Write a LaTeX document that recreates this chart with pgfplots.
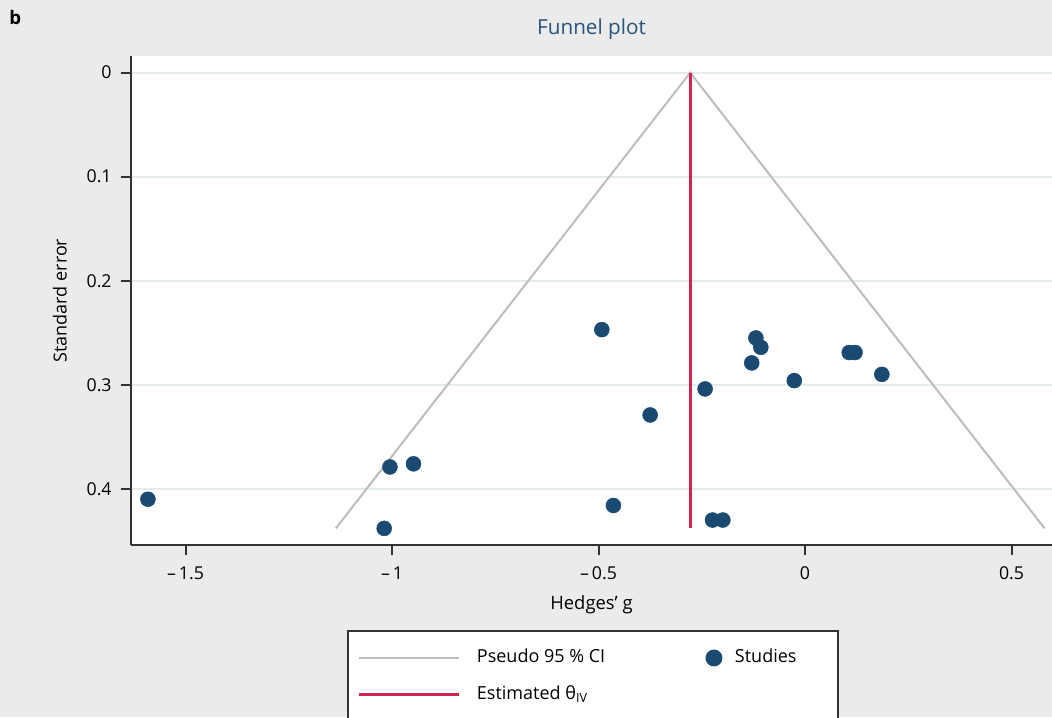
\documentclass[border=0pt]{standalone}
\usepackage{fontspec}
\setmainfont{Open Sans}
\usepackage{pgfplots}
\usepackage{pgfplotstable}
\pgfplotsset{compat=1.18}
\definecolor{bgc}{HTML}{EBEBEB}
\definecolor{titlec}{RGB}{38,84,124}
\definecolor{dotc}{RGB}{26,74,114}
\definecolor{redc}{RGB}{206,36,78}
\definecolor{func}{HTML}{BDBDBD}
\definecolor{gridc}{HTML}{E4EBEB}
\definecolor{axc}{HTML}{333333}
\pgfplotsset{
  lineleg/.style={legend image code/.code={\path[draw=none,fill=none] (-8.25pt,-13.875pt) rectangle (88.5pt,13.875pt); \draw[##1] (0pt,0pt) -- (75pt,0pt);}},
  dotleg/.style={legend image code/.code={\path[draw=none,fill=none] (-82.5pt,-13.875pt) rectangle (15.75pt,13.875pt); \draw[##1] plot coordinates {(0pt,0pt)};}},
}
\pgfplotstableread{
g SE
-1.591 0.410
-1.005 0.379
-0.948 0.376
-1.019 0.438
-0.492 0.247
-0.375 0.329
-0.464 0.416
-0.242 0.304
-0.224 0.430
-0.199 0.430
-0.119 0.255
-0.107 0.264
-0.129 0.279
-0.026 0.296
0.107 0.269
0.121 0.269
0.186 0.290
}\studies
\begin{document}
\begin{tikzpicture}[x=0.75pt,y=0.75pt]
\clip (0,0) rectangle (1052,717);
\fill[bgc] (0,0) rectangle (1052,717);
\node[anchor=base west, font=\bfseries\fontsize{14}{16}\selectfont, inner sep=0pt] at (9,692) {b};
\begin{axis}[
  at={(98.25pt,129pt)}, anchor=south west,
  scale only axis, width=690.75pt, height=366.75pt,
  xmin=-1.632, xmax=0.598, ymin=-0.016, ymax=0.454,
  y dir=reverse,
  axis x line*=bottom, axis y line*=left,
  axis line style={-, draw=axc, line width=1.5pt},
  axis background/.style={fill=white},
  tick align=outside, major tick length=7.5pt,
  every tick/.style={draw=axc, line width=1.5pt},
  xtick={-1.5,-1,-0.5,0,0.5},
  xticklabels={\textendash\,1.5,\textendash\,1,\textendash\,0.5,0,0.5},
  ytick={0,0.1,0.2,0.3,0.4},
  yticklabels={0,0.1,0.2,0.3,0.4},
  minor tick num=0,
  ymajorgrids, grid style={draw=gridc, line width=1.5pt},
  ticklabel style={font=\fontsize{13.3}{15}\selectfont},
  xticklabel style={yshift=-5pt},
  yticklabel style={xshift=-3.5pt},
  title={Funnel plot},
  title style={at={(axis description cs:0.5,1.0286)}, anchor=base, font=\fontsize{15.5}{18}\selectfont, text=titlec, inner sep=0pt},
  xlabel={Hedges’ g},
  xlabel style={at={(axis description cs:0.5,-0.1329)}, anchor=base, font=\fontsize{13.8}{15}\selectfont, inner sep=0pt},
  ylabel={Standard error},
  ylabel style={at={(axis description cs:-0.0771,0.5)}, anchor=center, font=\fontsize{13.5}{15}\selectfont},
  clip=false,
  legend columns=2,
  legend style={at={(axis description cs:0.2345,-0.1738)}, anchor=north west,
    draw=axc, line width=1.5pt, fill=white, inner xsep=0pt, inner ysep=6.375pt,
    column sep=0pt, row sep=0pt,
    font=\fontsize{13.5}{15}\selectfont,
    nodes={inner sep=0pt, text height=0.7em, text depth=0em},
    cells={anchor=west}},
]
\addplot[draw=func, line width=1.5pt, mark=none, lineleg]
  coordinates {(-1.136,0.438) (-0.278,0) (0.580,0.438)};
\addlegendentry{\makebox[95.25pt][l]{Pseudo 95 \% CI}}
\addplot[only marks, mark=*, mark size=5.6pt, draw=dotc, fill=dotc, dotleg]
  table[x=g, y=SE] {\studies};
\addlegendentry{\makebox[77.25pt][l]{Studies}}
\addplot[draw=redc, line width=2.25pt, mark=none, lineleg]
  coordinates {(-0.278,0) (-0.278,0.438)};
\addlegendentry{\makebox[95.25pt][l]{Estimated θ\textsubscript{IV}}}
\end{axis}
\end{tikzpicture}
\end{document}
